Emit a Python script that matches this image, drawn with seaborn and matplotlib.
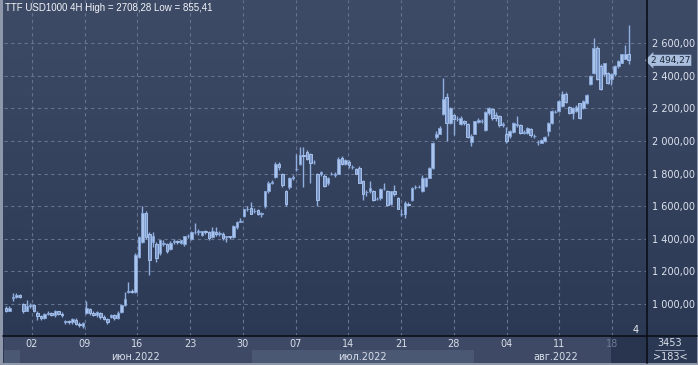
import numpy as np
import matplotlib
matplotlib.use("Agg")
import matplotlib.pyplot as plt
import seaborn as sns
from matplotlib.colors import LinearSegmentedColormap
from matplotlib.lines import Line2D

# 4H candles, TTF USD1000, 30 May - 19 Aug 2022
opens = [975, 960, 1040, 1045, 1055, 1000, 960, 985, 995, 945,
         925, 915, 940, 945, 930, 955, 940, 890, 895, 890,
         905, 880, 865, 945, 970, 945, 930, 945, 920, 910,
         920, 930, 915, 950, 995, 1075, 1080, 1075, 1290, 1380,
         1560, 1430, 1380, 1370, 1310, 1370, 1370, 1340, 1380, 1385,
         1375, 1370, 1415, 1400, 1440, 1440, 1425, 1445, 1440, 1410,
         1440, 1430, 1430, 1410, 1415, 1410, 1475, 1505, 1540, 1580,
         1590, 1570, 1575, 1555, 1600, 1690, 1745, 1780, 1860, 1800,
         1690, 1715, 1775, 1825, 1860, 1915, 1935, 1920, 1872, 1800,
         1795, 1785, 1740, 1800, 1790, 1800, 1895, 1860, 1870, 1840,
         1830, 1835, 1755, 1685, 1690, 1695, 1645, 1650, 1710, 1695,
         1615, 1690, 1650, 1555, 1555, 1615, 1635, 1715, 1715, 1690,
         1725, 1775, 1835, 2025, 2045, 2165, 2270, 2110, 2160, 2135,
         2105, 2120, 2105, 1995, 2045, 2115, 2120, 2070, 2170, 2195,
         2160, 2150, 2100, 2045, 2030, 2055, 2095, 2100, 2050, 2050,
         2075, 2030, 1995, 1990, 2000, 2060, 2110, 2180, 2185, 2215,
         2290, 2210, 2170, 2185, 2230, 2200, 2230, 2350, 2415, 2570,
         2460, 2410, 2415, 2380, 2410, 2460, 2480, 2505, 2530]
highs = [985, 990, 1065, 1065, 1060, 1005, 1025, 1005, 1000, 960,
         935, 945, 955, 950, 965, 960, 950, 905, 900, 915,
         912, 890, 890, 1020, 975, 955, 955, 950, 930, 915,
         940, 940, 955, 1000, 1075, 1135, 1090, 1310, 1420, 1600,
         1570, 1440, 1440, 1380, 1395, 1390, 1375, 1385, 1400, 1395,
         1395, 1420, 1430, 1445, 1495, 1460, 1450, 1455, 1445, 1475,
         1470, 1445, 1440, 1420, 1420, 1485, 1510, 1525, 1585, 1600,
         1628, 1590, 1580, 1565, 1695, 1755, 1760, 1870, 1872, 1805,
         1700, 1780, 1790, 1920, 1963, 1960, 1945, 1925, 1880, 1805,
         1815, 1795, 1780, 1810, 1810, 1900, 1905, 1890, 1880, 1850,
         1835, 1845, 1760, 1700, 1755, 1700, 1655, 1710, 1740, 1700,
         1695, 1730, 1655, 1580, 1630, 1625, 1715, 1730, 1730, 1790,
         1780, 1840, 1995, 2060, 2090, 2385, 2295, 2205, 2165, 2155,
         2150, 2130, 2110, 2040, 2125, 2140, 2135, 2185, 2210, 2200,
         2175, 2160, 2115, 2085, 2065, 2115, 2150, 2105, 2065, 2085,
         2080, 2040, 2005, 2010, 2030, 2115, 2190, 2190, 2250, 2305,
         2300, 2215, 2205, 2220, 2235, 2250, 2285, 2405, 2630, 2585,
         2470, 2480, 2425, 2415, 2465, 2495, 2535, 2590, 2708.28]
lows = [950, 955, 1020, 1040, 1035, 945, 955, 975, 950, 905,
        905, 910, 930, 925, 920, 930, 920, 880, 880, 875,
        870, 860, 855.41, 940, 935, 925, 920, 910, 900, 878,
        915, 905, 910, 945, 990, 1065, 1065, 1065, 1285, 1375,
        1400, 1180, 1350, 1260, 1300, 1355, 1310, 1330, 1370, 1370,
        1365, 1355, 1405, 1390, 1430, 1425, 1415, 1430, 1395, 1405,
        1420, 1420, 1395, 1380, 1400, 1405, 1460, 1500, 1535, 1570,
        1550, 1560, 1545, 1535, 1590, 1680, 1735, 1775, 1820, 1720,
        1600, 1705, 1760, 1815, 1855, 1715, 1880, 1740, 1860, 1600,
        1785, 1715, 1730, 1790, 1780, 1795, 1850, 1850, 1835, 1830,
        1795, 1740, 1640, 1660, 1680, 1630, 1635, 1640, 1700, 1600,
        1610, 1665, 1580, 1540, 1530, 1600, 1630, 1705, 1710, 1685,
        1720, 1770, 1830, 2010, 2040, 2160, 2000, 2105, 2037, 2120,
        2100, 2100, 2020, 1970, 2040, 2110, 2110, 2060, 2160, 2130,
        2120, 2085, 2085, 1990, 2020, 2050, 2085, 2040, 2040, 2040,
        2025, 2020, 1975, 1985, 1995, 2030, 2105, 2170, 2180, 2210,
        2235, 2165, 2135, 2175, 2135, 2195, 2225, 2340, 2410, 2375,
        2310, 2400, 2350, 2345, 2400, 2450, 2475, 2500, 2470]
closes = [960, 975, 1045, 1055, 1045, 960, 985, 995, 960, 925,
          915, 940, 945, 935, 960, 940, 930, 895, 890, 910,
          880, 870, 885, 975, 945, 935, 950, 920, 910, 890,
          935, 915, 945, 995, 1030, 1080, 1075, 1300, 1410, 1560,
          1410, 1270, 1420, 1280, 1390, 1375, 1325, 1375, 1385, 1380,
          1390, 1415, 1420, 1440, 1440, 1445, 1445, 1440, 1405, 1450,
          1430, 1435, 1405, 1415, 1410, 1480, 1505, 1510, 1580, 1585,
          1555, 1570, 1555, 1560, 1690, 1745, 1750, 1860, 1840, 1730,
          1615, 1775, 1780, 1830, 1915, 1910, 1890, 1865, 1872, 1635,
          1810, 1725, 1775, 1800, 1800, 1890, 1860, 1880, 1850, 1840,
          1800, 1745, 1675, 1685, 1710, 1640, 1645, 1705, 1710, 1610,
          1690, 1675, 1585, 1555, 1620, 1610, 1710, 1715, 1720, 1770,
          1775, 1835, 1985, 2040, 2080, 2255, 2110, 2200, 2135, 2135,
          2140, 2110, 2025, 2030, 2120, 2130, 2125, 2175, 2200, 2140,
          2140, 2095, 2105, 2000, 2060, 2110, 2105, 2050, 2055, 2080,
          2035, 2030, 1995, 2005, 2025, 2110, 2185, 2180, 2245, 2290,
          2240, 2170, 2200, 2210, 2140, 2245, 2280, 2400, 2570, 2380,
          2320, 2475, 2355, 2410, 2460, 2490, 2530, 2530, 2494.27]

day_labels = ["02", "09", "16", "23", "30", "07", "14", "21", "28", "04", "11", "18"]
month_labels = ["июн.2022", "июл.2022", "авг.2022"]
price_ticks = [1000, 1200, 1400, 1600, 1800, 2000, 2200, 2400, 2600]
title = "TTF USD1000 4H High = 2708,28 Low = 855,41"
last_price = 2494.27
corner_top, corner_bottom, corner_small = "3453", ">183<", "4"

W, H = 698, 365
sns.set_style("dark")
plt.rcParams["font.family"] = ["DejaVu Sans"]


def ru_num(v):
    return f"{v:,.2f}".replace(",", " ").replace(".", ",")


fig = plt.figure(figsize=(W / 100, H / 100), dpi=100)
fig.patch.set_facecolor("#8f98aa")

# background gradient
bg = fig.add_axes([3 / W, 2 / H, 694 / W, 363 / H], zorder=-10)
cmap = LinearSegmentedColormap.from_list("bg", ["#2b3853", "#3e4b67"])
bg.imshow(np.linspace(0, 1, 256).reshape(-1, 1), aspect="auto", cmap=cmap,
          origin="lower", extent=[0, 1, 0, 1])
bg.set_axis_off()

x = np.arange(len(closes))
o = np.array(opens, dtype=float)
c = np.array(closes, dtype=float)
up = c >= o
xlim = (-0.57, 182.9)
week_pos = np.linspace(7.4, 173.2, len(day_labels))

ax = fig.add_axes([4 / W, 29 / H, 642 / W, 336 / H])
ax.set_facecolor("none")
ax.vlines(x, lows, highs, color="#90afe0", linewidth=1.0, zorder=3)
ax.bar(x[up], (c - o)[up], bottom=o[up], width=0.8, color="#aac3ea",
       edgecolor="#86a7dc", linewidth=0.6, zorder=4)
ax.bar(x[~up], (o - c)[~up], bottom=c[~up], width=0.8, color="#7896c8",
       edgecolor="#a6c0ea", linewidth=0.7, zorder=4)
ax.set_xlim(*xlim)
ax.set_ylim(804, 2864)
ax.set_xticks(week_pos)
ax.set_xticklabels([])
ax.set_yticks(price_ticks)
ax.set_yticklabels([ru_num(v) for v in price_ticks])
ax.yaxis.tick_right()
ax.tick_params(length=0, labelsize=7, labelcolor="#dde3ee", pad=4)
ax.grid(True, color="#66738f", linestyle=(0, (3, 3)), linewidth=0.8)
for s in ax.spines.values():
    s.set_visible(False)

ax.annotate(ru_num(last_price), xy=(1.0, last_price), xycoords=("axes fraction", "data"),
            xytext=(3.5, 0), textcoords="offset points", va="center", ha="left",
            fontsize=6.4, color="#1b2233",
            bbox=dict(boxstyle="larrow,pad=0.12", fc="#a9bfdd", ec="none"))

# bottom date strip
axb = fig.add_axes([4 / W, 2 / H, 642 / W, 27 / H])
axb.set_xlim(*xlim)
axb.set_ylim(0, 1)
axb.set_facecolor("#3d4965")
bands = [(4, 70.3, "#3d4965"), (70.3, 133.7, "#4b5874"), (133.7, 180.5, "#3d4965")]
axb.axvspan(-0.57, 4, ymin=0, ymax=0.48, color="#4b5874", lw=0)
for (a, b, col), lab in zip(bands, month_labels):
    axb.axvspan(a, b, ymin=0, ymax=0.48, color=col, lw=0)
    axb.text((a + b) / 2, 0.24, lab, ha="center", va="center", fontsize=7, color="#d8dee9")
axb.axvspan(172.9, 182.9, color="#29354e", lw=0, zorder=2)
for pos, lab in zip(week_pos, day_labels):
    col = "#6d7a96" if pos > 172.9 else "#d8dee9"
    axb.text(pos, 0.72, lab, ha="center", va="center", fontsize=7, color=col, zorder=3)
axb.set_xticks([])
axb.set_yticks([])
for s in axb.spines.values():
    s.set_visible(False)

# separators and texts
fig.add_artist(Line2D([646.5 / W] * 2, [2 / H, 1], color="#0b0f18", lw=1.2))
fig.add_artist(Line2D([3 / W, 697 / W], [(365 - 336) / H] * 2, color="#0b0f18", lw=1.2))
fig.add_artist(Line2D([655 / W, 684 / W], [(365 - 349.5) / H] * 2, color="#aab3c5", lw=0.6))
fig.text(5 / W, 1 - 8 / H, title, fontsize=7, color="#f2f4f8", va="center", ha="left",
         family=["Liberation Sans", "DejaVu Sans"])
fig.text(636 / W, 1 - 330 / H, corner_small, fontsize=7, color="#e8ecf3", va="center", ha="center")
fig.text(670 / W, 1 - 342.5 / H, corner_top, fontsize=7, color="#d8dee9", va="center", ha="center")
fig.text(670 / W, 1 - 356.5 / H, corner_bottom, fontsize=7, color="#d8dee9", va="center", ha="center")

fig.savefig("out.png", dpi=100, facecolor=fig.get_facecolor())
